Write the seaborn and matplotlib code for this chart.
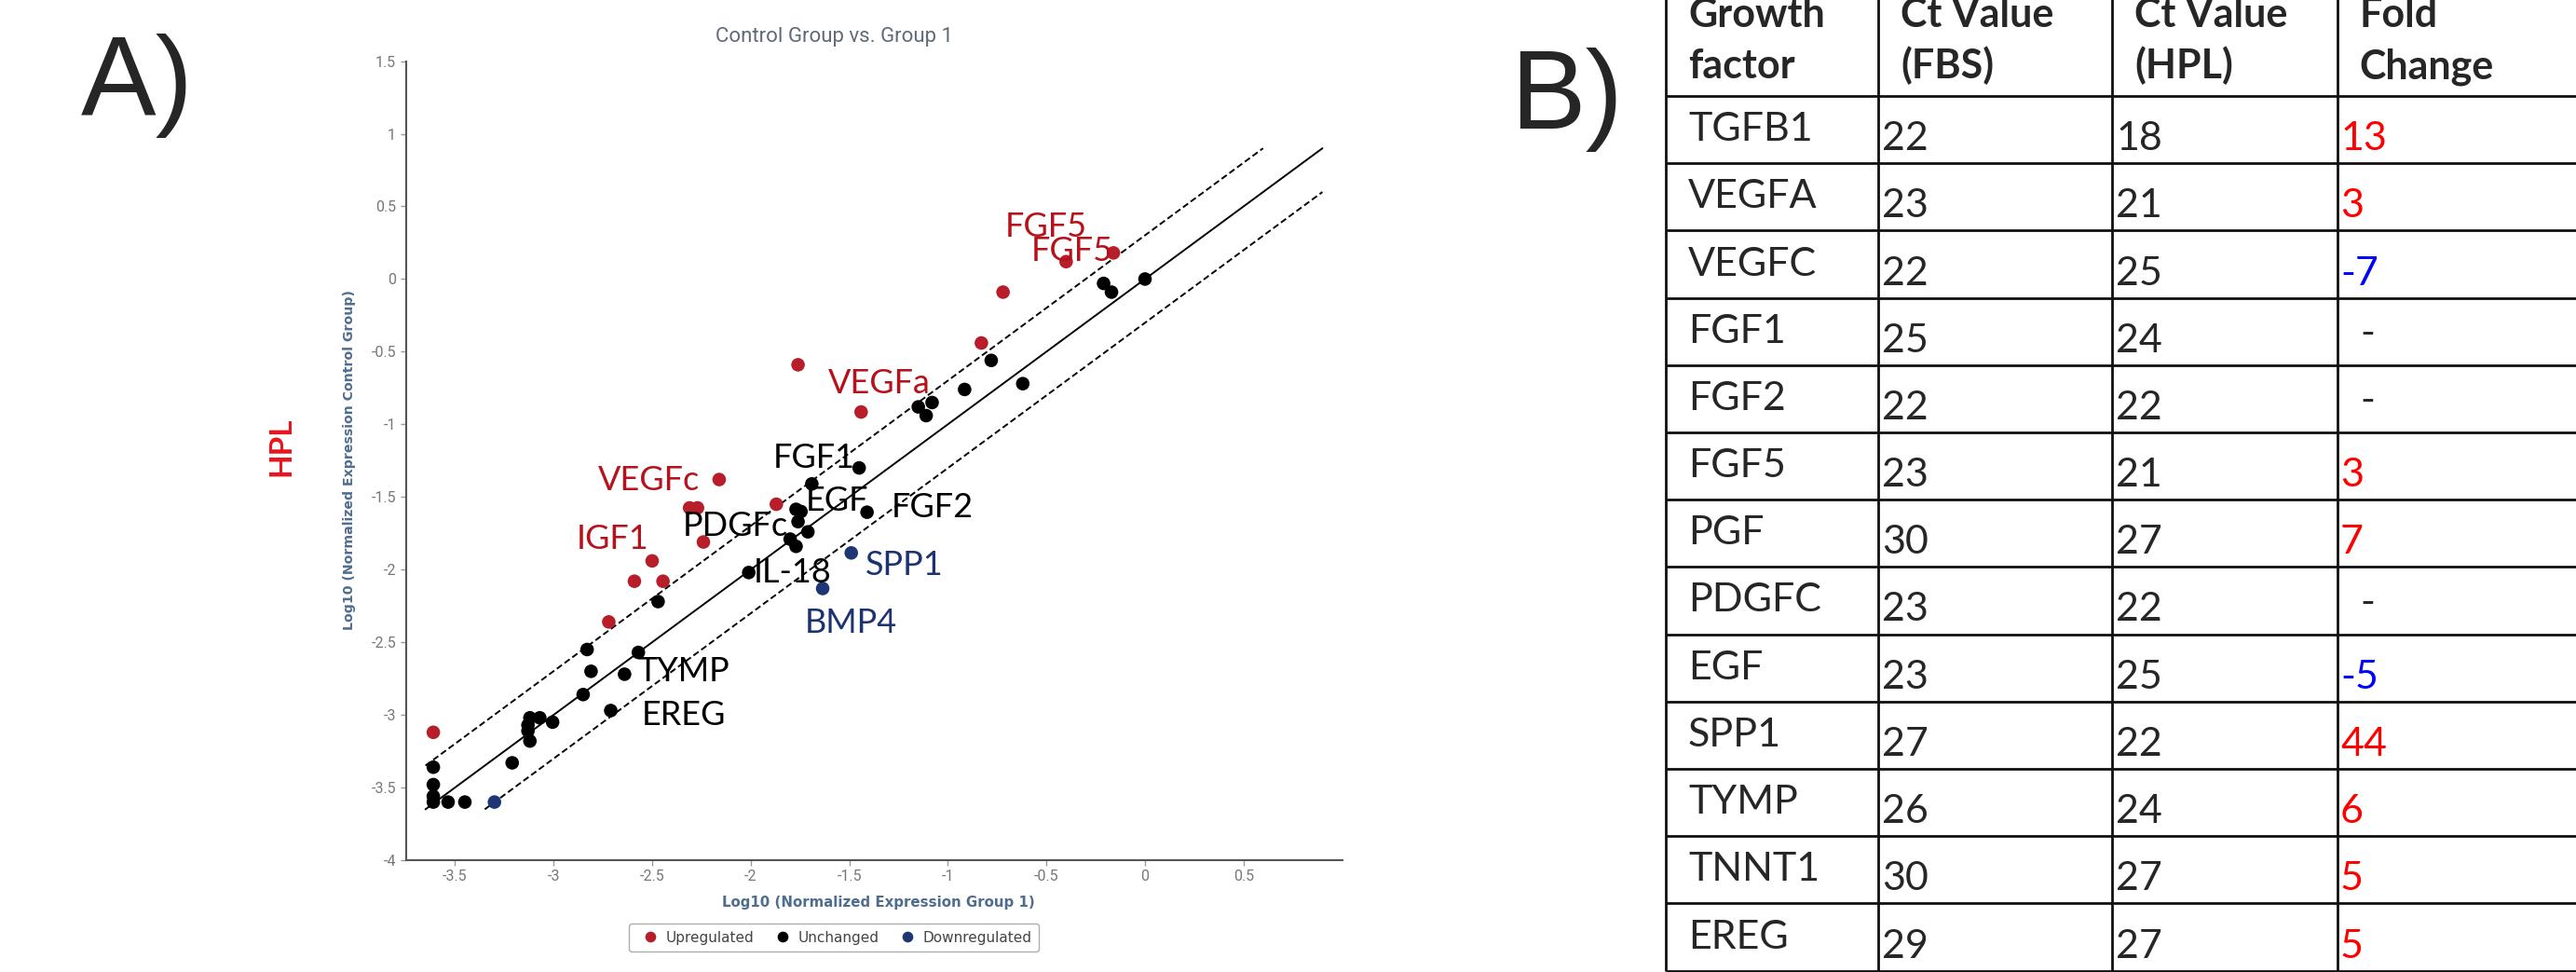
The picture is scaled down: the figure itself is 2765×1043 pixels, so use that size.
import numpy as np
import pandas as pd
import matplotlib
matplotlib.use("Agg")
import matplotlib.pyplot as plt
import seaborn as sns
from matplotlib.ticker import FuncFormatter, MultipleLocator

W, H = 2765, 1043

# ---- panel A: log10 normalized expression (x: Group 1, y: Control Group)
up_x = [-0.16, -0.40, -0.72, -0.83, -1.76, -1.44, -2.16, -2.31, -2.27, -1.87,
        -2.24, -2.50, -2.59, -2.445, -2.72, -3.61]
up_y = [0.18, 0.12, -0.09, -0.44, -0.59, -0.915, -1.38, -1.575, -1.575, -1.55,
        -1.81, -1.94, -2.08, -2.08, -2.36, -3.12]

same_x = [0.0, -0.21, -0.17, -0.78, -0.62, -0.915, -1.15, -1.08, -1.11, -1.45,
          -1.69, -1.77, -1.745, -1.76, -1.71, -1.80, -1.77, -1.41, -2.01, -2.47,
          -2.83, -2.57, -2.81, -2.64, -2.85, -2.71, -3.12, -3.07, -3.005, -3.13,
          -3.13, -3.12, -3.21, -3.61, -3.61, -3.61, -3.61, -3.535, -3.45]
same_y = [0.0, -0.03, -0.09, -0.56, -0.72, -0.76, -0.88, -0.85, -0.94, -1.30,
          -1.41, -1.585, -1.60, -1.67, -1.74, -1.79, -1.84, -1.605, -2.02, -2.22,
          -2.55, -2.57, -2.70, -2.72, -2.86, -2.97, -3.02, -3.02, -3.05, -3.07,
          -3.11, -3.18, -3.33, -3.36, -3.48, -3.56, -3.60, -3.60, -3.60]

down_x = [-1.49, -1.635, -3.30]
down_y = [-1.885, -2.13, -3.60]

STATUS_ORDER = ["Upregulated", "Unchanged", "Downregulated"]
PALETTE = {"Upregulated": "#b81d2a", "Unchanged": "#000000", "Downregulated": "#1e3673"}

gene_labels = ["FGF5", "FGF5", "VEGFa", "FGF1", "VEGFc", "EGF", "FGF2", "PDGFc",
               "IGF1", "IL-18", "SPP1", "BMP4", "TYMP", "EREG"]
gene_label_x = [-0.50, -0.37, -1.35, -1.68, -2.517, -1.56, -1.08, -2.08,
                -2.70, -1.79, -1.22, -1.49, -2.34, -2.34]
gene_label_y = [0.356, 0.193, -0.717, -1.23, -1.389, -1.53, -1.57, -1.70,
                -1.79, -2.02, -1.97, -2.37, -2.70, -3.00]
gene_label_color = ["#b5121b", "#b5121b", "#b5121b", "black", "#b5121b", "black", "black", "black",
                    "#b5121b", "black", "#1c3370", "#1c3370", "black", "black"]

FOLD_CUTOFF = np.log10(2)
DIAG_RANGE = (-3.65, 0.9)

# ---- panel B: table
table_genes = ["TGFB1", "VEGFA", "VEGFC", "FGF1", "FGF2", "FGF5", "PGF",
               "PDGFC", "EGF", "SPP1", "TYMP", "TNNT1", "EREG"]
ct_fbs = [22, 23, 22, 25, 22, 23, 30, 23, 23, 27, 26, 30, 29]
ct_hpl = [18, 21, 25, 24, 22, 21, 27, 22, 25, 22, 24, 27, 27]
fold_change = ["13", "3", "-7", "-", "-", "3", "7", "-", "-5", "44", "6", "5", "5"]
header_lines = [["Growth", "factor"], ["Ct Value", "(FBS)"],
                ["Ct Value", "(HPL)"], ["Fold", "Change"]]


def fold_color(v):
    if v == "-":
        return "black"
    return "#0000ff" if v.startswith("-") else "#ff0000"


df = pd.DataFrame({
    "x": up_x + same_x + down_x,
    "y": up_y + same_y + down_y,
    "status": (["Upregulated"] * len(up_x) + ["Unchanged"] * len(same_x)
               + ["Downregulated"] * len(down_x)),
})

sns.set_style("white")
plt.rcParams["font.family"] = ["DejaVu Sans"]

fig = plt.figure(figsize=(W / 100, H / 100), dpi=100)


def fx(px):
    return px / W


def fy(py):
    return 1 - py / H


# scatter axes
ax = fig.add_axes([fx(435.5), fy(923), fx(1440.6) - fx(435.5), fy(65.6) - fy(923)])

# identity line and +/- 2-fold boundaries
for off, ls in [(0.0, "-"), (FOLD_CUTOFF, "--"), (-FOLD_CUTOFF, "--")]:
    lo, hi = DIAG_RANGE
    xs = np.array([max(lo, lo - off), min(hi, hi - off)])
    kw = {"dashes": (3.5, 1.8)} if ls == "--" else {}
    ax.plot(xs, xs + off, color="black", lw=1.4, linestyle=ls, zorder=1, **kw)

sns.scatterplot(data=df, x="x", y="y", hue="status", hue_order=STATUS_ORDER,
                palette=PALETTE, s=110, linewidth=0, ax=ax, zorder=3)

for lab, lx, ly, c in zip(gene_labels, gene_label_x, gene_label_y, gene_label_color):
    ax.text(lx, ly, lab, ha="center", va="center", color=c, fontsize=26,
            family=["Lato", "DejaVu Sans"], zorder=4)

ax.set_xlim(-3.75, 1.0)
ax.set_ylim(-4, 1.5)
ax.xaxis.set_major_locator(MultipleLocator(0.5))
ax.yaxis.set_major_locator(MultipleLocator(0.5))
fmt = FuncFormatter(lambda v, p: f"{v:g}")
ax.xaxis.set_major_formatter(fmt)
ax.yaxis.set_major_formatter(fmt)
ax.set_xticks(np.arange(-3.5, 0.51, 0.5))
ax.set_xlabel("")
ax.set_ylabel("")
for side in ["top", "right"]:
    ax.spines[side].set_visible(False)
for side in ["left", "bottom"]:
    ax.spines[side].set_color("#555555")
    ax.spines[side].set_linewidth(1.5)
ax.tick_params(axis="both", colors="#999999", labelcolor="#777777", labelsize=11.5,
               length=4, width=1, left=True, bottom=True)
for t in ax.get_xticklabels() + ax.get_yticklabels():
    t.set_family(["Roboto", "DejaVu Sans"])

sns.move_legend(ax, "center", bbox_to_anchor=(fx(895), fy(1006)),
                bbox_transform=fig.transFigure, ncol=3, title=None, frameon=True,
                fancybox=True, fontsize=11, labelcolor="#444444", markerscale=0.8,
                handletextpad=0.1, columnspacing=1.0, borderpad=0.5, edgecolor="#999999")

fig.text(fx(896), fy(40), "Control Group vs. Group 1", ha="center", va="center",
         fontsize=16, color="#5f6b78", family=["Roboto", "DejaVu Sans"])
fig.text(fx(943), fy(969), "Log10 (Normalized Expression Group 1)", ha="center",
         va="center", fontsize=10.8, color="#4f6d8f", fontweight="bold")
fig.text(fx(375), fy(494), "Log10 (Normalized Expression Control Group)", ha="center",
         va="center", rotation=90, fontsize=10.2, color="#4f6d8f", fontweight="bold")
fig.text(fx(302), fy(479), "HPL", ha="center", va="center", rotation=90, fontsize=24,
         color="#e8141c", fontweight="bold", family=["Lato", "DejaVu Sans"])
fig.text(fx(87), fy(123), "A)", ha="left", va="baseline", fontsize=87,
         family=["Liberation Sans", "DejaVu Sans"])
fig.text(fx(1621), fy(138), "B)", ha="left", va="baseline", fontsize=87,
         family=["Liberation Sans", "DejaVu Sans"])

# table drawn in pixel coordinates
axt = fig.add_axes([0, 0, 1, 1], zorder=-1)
axt.set_xlim(0, W)
axt.set_ylim(H, 0)
axt.axis("off")

col_x = [1788, 2016, 2267, 2509]
body_top = 103
row_h = 72.2
row_edges = [body_top + row_h * i for i in range(len(table_genes) + 1)]

axt.hlines(row_edges, col_x[0], W + 5, color="#111111", lw=2.0)
axt.vlines(col_x, -10, row_edges[-1], color="#111111", lw=2.0)

tfont = ["Lato", "DejaVu Sans"]
head_x = [1812, 2040, 2291, 2532]
for hx, lines in zip(head_x, header_lines):
    for by, txt in zip([29, 84], lines):
        axt.text(hx, by, txt, ha="left", va="baseline", fontsize=31,
                 fontweight="bold", family=tfont)

for i, (g, a, b, f) in enumerate(zip(table_genes, ct_fbs, ct_hpl, fold_change)):
    cy = (row_edges[i] + row_edges[i + 1]) / 2
    axt.text(1812, cy, g, ha="left", va="center", fontsize=31, family=tfont)
    axt.text(2020, cy + 10, str(a), ha="left", va="center", fontsize=31, family=tfont)
    axt.text(2271, cy + 10, str(b), ha="left", va="center", fontsize=31, family=tfont)
    if f == "-":
        axt.text(2533, cy + 2, f, ha="left", va="center", fontsize=31, family=tfont)
    else:
        axt.text(2512, cy + 10, f, ha="left", va="center", fontsize=31,
                 color=fold_color(f), family=tfont)

fig.savefig("out.png", dpi=100)
